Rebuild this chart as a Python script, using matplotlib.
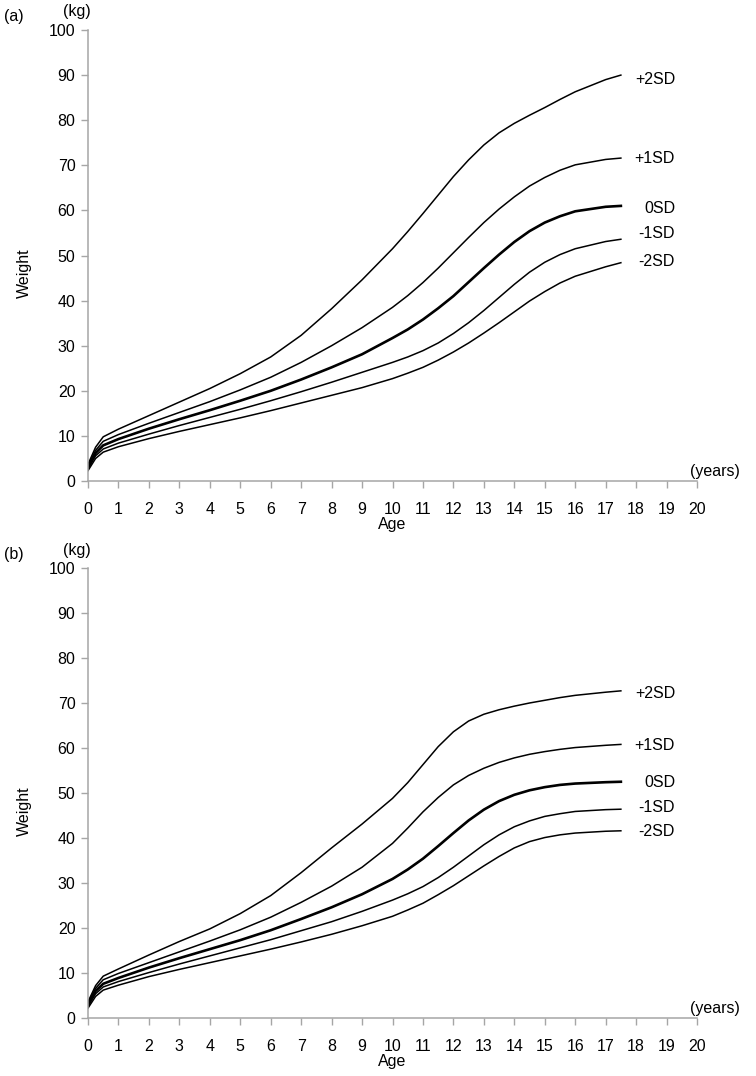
import numpy as np
import matplotlib.pyplot as plt

plt.rcParams['font.family'] = ['Liberation Sans', 'DejaVu Sans']
plt.rcParams['font.size'] = 11

# ---------------- data ----------------
age = [0, 0.25, 0.5, 1, 2, 3, 4, 5, 6, 7, 8, 9, 10, 10.5, 11, 11.5, 12, 12.5,
       13, 13.5, 14, 14.5, 15, 15.5, 16, 17, 17.5]
sd_names = ["+2SD", "+1SD", "0SD", "-1SD", "-2SD"]

# panel (a)
a_p2 = [3.7, 7.5, 9.8, 11.5, 14.5, 17.5, 20.5, 23.8, 27.5, 32.3, 38.2, 44.6,
        51.5, 55.3, 59.3, 63.4, 67.5, 71.2, 74.5, 77.2, 79.3, 81.1, 82.8, 84.6, 86.3, 89.0, 90.0]
a_p1 = [3.4, 6.8, 8.8, 10.3, 12.8, 15.2, 17.6, 20.2, 23.0, 26.3, 30.0, 34.0,
        38.5, 41.1, 44.0, 47.2, 50.6, 54.0, 57.3, 60.3, 63.0, 65.4, 67.3, 68.9, 70.1, 71.3, 71.6]
a_0 = [3.0, 6.2, 7.9, 9.3, 11.6, 13.7, 15.7, 17.8, 20.0, 22.5, 25.2, 28.1,
       31.7, 33.6, 35.8, 38.3, 41.0, 44.1, 47.2, 50.2, 53.0, 55.4, 57.3, 58.7, 59.8, 60.8, 61.0]
a_m1 = [2.7, 5.6, 7.1, 8.4, 10.4, 12.3, 14.1, 15.9, 17.8, 19.8, 21.9, 24.1,
        26.3, 27.5, 28.9, 30.6, 32.7, 35.1, 37.8, 40.7, 43.6, 46.3, 48.5, 50.2, 51.5, 53.1, 53.6]
a_m2 = [2.3, 5.0, 6.4, 7.6, 9.4, 11.0, 12.5, 14.0, 15.6, 17.3, 19.0, 20.7,
        22.7, 23.9, 25.2, 26.8, 28.6, 30.6, 32.8, 35.1, 37.5, 39.9, 42.0, 43.9, 45.4, 47.5, 48.4]

# panel (b)
b_p2 = [3.6, 7.2, 9.3, 10.9, 14.0, 17.0, 19.8, 23.2, 27.2, 32.3, 37.8, 43.1,
        48.8, 52.3, 56.3, 60.3, 63.6, 66.0, 67.5, 68.5, 69.3, 70.0, 70.6, 71.2, 71.7, 72.4, 72.7]
b_p1 = [3.3, 6.6, 8.5, 9.9, 12.3, 14.7, 17.1, 19.6, 22.4, 25.7, 29.3, 33.5,
        38.8, 42.2, 45.8, 49.0, 51.8, 53.9, 55.5, 56.8, 57.8, 58.6, 59.2, 59.7, 60.1, 60.6, 60.8]
b_0 = [2.9, 6.0, 7.6, 8.9, 11.2, 13.3, 15.3, 17.3, 19.5, 22.0, 24.6, 27.5,
       30.9, 33.0, 35.4, 38.2, 41.1, 43.9, 46.3, 48.2, 49.6, 50.6, 51.3, 51.8, 52.1, 52.4, 52.5]
b_m1 = [2.6, 5.4, 6.9, 8.1, 10.1, 12.0, 13.8, 15.6, 17.4, 19.4, 21.4, 23.7,
        26.2, 27.6, 29.2, 31.2, 33.5, 36.0, 38.5, 40.7, 42.5, 43.8, 44.8, 45.4, 45.9, 46.3, 46.4]
b_m2 = [2.2, 4.8, 6.2, 7.3, 9.2, 10.8, 12.3, 13.8, 15.3, 16.9, 18.6, 20.5,
        22.6, 24.0, 25.5, 27.4, 29.4, 31.6, 33.8, 35.9, 37.8, 39.2, 40.1, 40.7, 41.1, 41.5, 41.6]

x_ticks = list(range(0, 21))
y_ticks = list(range(0, 101, 10))

panels = [
    ("(a)", [a_p2, a_p1, a_0, a_m1, a_m2], [89.1, 71.4, 60.5, 54.8, 48.6]),
    ("(b)", [b_p2, b_p1, b_0, b_m1, b_m2], [72.1, 60.5, 52.3, 46.8, 41.5]),
]

# ---------------- figure ----------------
W, H = 756, 1076
fig = plt.figure(figsize=(W / 100, H / 100), dpi=100)

axes_px = [(88, 30, 609, 451), (88, 568, 609, 450)]  # left, top, width, height in px
grey = "#a6a6a6"

for (tag, curves, label_y), (l, t, w, h) in zip(panels, axes_px):
    ax = fig.add_axes([l / W, 1 - (t + h) / H, w / W, h / H])

    for name, vals in zip(sd_names, curves):
        lw = 1.9 if name == "0SD" else 1.1
        ax.plot(age, vals, color="black", lw=lw, solid_joinstyle="round")

    for name, ly in zip(sd_names, label_y):
        ax.text(19.28, ly, name, ha="right", va="center", fontsize=11.5)

    ax.set_xlim(0, 20)
    ax.set_ylim(0, 100)
    ax.set_xticks(x_ticks)
    ax.set_yticks(y_ticks)

    for s in ["top", "right"]:
        ax.spines[s].set_visible(False)
    for s in ["left", "bottom"]:
        ax.spines[s].set_color(grey)
        ax.spines[s].set_linewidth(1.1)
    ax.tick_params(axis="both", colors=grey, labelcolor="black", width=1.0,
                   length=5, direction="out", labelsize=11.5)
    ax.tick_params(axis="y", pad=4)
    ax.tick_params(axis="x", pad=10)

    ax.set_ylabel("Weight", fontsize=11.5, labelpad=0)
    ax.yaxis.set_label_coords(-0.092, 0.46)
    ax.set_xlabel("Age", fontsize=11.5, labelpad=0)

    ax.text(-0.018, 1.04, "(kg)", transform=ax.transAxes, ha="center",
            va="center", fontsize=11.5)
    ax.text(0.988, 0.02, "(years)", transform=ax.transAxes, ha="left",
            va="center", fontsize=11.5, clip_on=False)
    fig.text(14 / W, 1 - (t - 13) / H, tag, ha="center", va="center",
             fontsize=11.5)

fig.savefig("out.png", dpi=100)
